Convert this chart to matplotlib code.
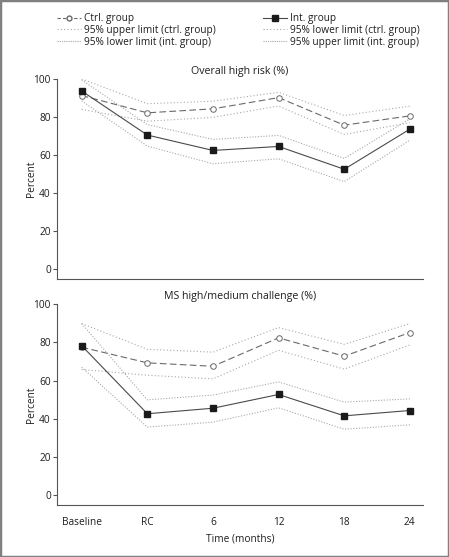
import matplotlib
matplotlib.use("Agg")
import matplotlib.pyplot as plt
from matplotlib.lines import Line2D
from matplotlib.patches import Rectangle

plt.rcParams['font.family'] = ['Open Sans', 'DejaVu Sans']

time_labels = ["Baseline", "RC", "6", "12", "18", "24"]

# Panel 1: Overall high risk (%)
risk_ctrl = [91.3, 82.2, 84.3, 90.2, 75.7, 80.6]
risk_ctrl_upper = [100.0, 87.0, 88.3, 93.0, 80.8, 85.7]
risk_ctrl_lower = [84.0, 77.8, 79.8, 85.8, 70.8, 77.0]
risk_int = [93.7, 70.5, 62.4, 64.5, 52.5, 73.6]
risk_int_upper = [99.5, 76.0, 68.2, 70.3, 58.2, 79.0]
risk_int_lower = [88.5, 64.7, 55.4, 58.0, 46.0, 67.8]

# Panel 2: MS high/medium challenge (%)
ms_ctrl = [77.5, 69.3, 67.5, 82.4, 72.8, 85.2]
ms_ctrl_upper = [89.9, 76.4, 74.9, 87.8, 79.0, 89.9]
ms_ctrl_lower = [65.8, 62.8, 60.9, 75.9, 66.0, 78.7]
ms_int = [78.3, 42.6, 45.5, 52.7, 41.5, 44.3]
ms_int_upper = [89.9, 49.9, 52.4, 59.3, 48.7, 50.4]
ms_int_lower = [67.0, 35.6, 38.2, 45.7, 34.5, 36.8]

W, H = 449, 557
fig = plt.figure(figsize=(W / 100, H / 100), dpi=100)

fs = 7.3
ctrl_color = "#6a6a6a"
int_color = "#4a4a4a"
ci_color = "#a8a8a8"
text_color = "#1e1e1e"

def make_axes(top_px, bottom_px):
    left = 57 / W
    right = 423 / W
    return fig.add_axes([left, 1 - bottom_px / H, right - left, (bottom_px - top_px) / H])

def draw(ax, title, ctrl, cu, cl, it, iu, il, show_x):
    x = list(range(len(time_labels)))
    ax.plot(x, cu, linestyle=(0, (1, 2)), color=ci_color, lw=0.8)
    ax.plot(x, cl, linestyle=(0, (1, 2)), color=ci_color, lw=0.8)
    ax.plot(x, iu, linestyle=(0, (1, 1.5)), color=ci_color, lw=0.8)
    ax.plot(x, il, linestyle=(0, (1, 1.5)), color=ci_color, lw=0.8)
    ax.plot(x, ctrl, linestyle=(0, (6, 3)), color=ctrl_color, lw=0.8,
            marker="o", ms=4, mfc="white", mec=ctrl_color, mew=0.7)
    ax.plot(x, it, linestyle="-", color=int_color, lw=0.8,
            marker="s", ms=4.2, mfc="#1a1a1a", mec="#1a1a1a")
    ax.set_xlim(-0.376, 5.2)
    ax.set_ylim(-5.1, 100)
    ax.set_yticks([0, 20, 40, 60, 80, 100])
    ax.set_xticks(x)
    ax.spines["top"].set_visible(False)
    ax.spines["right"].set_visible(False)
    for s in ["left", "bottom"]:
        ax.spines[s].set_color("#555555")
        ax.spines[s].set_linewidth(0.8)
    ax.tick_params(axis="y", length=3, width=0.8, color="#555555",
                   labelsize=fs, labelcolor=text_color, pad=1.5)
    if show_x:
        ax.set_xticklabels(time_labels)
        ax.tick_params(axis="x", length=0, labelsize=fs, labelcolor=text_color, pad=9)
        ax.set_xlabel("Time (months)", fontsize=fs, color=text_color, labelpad=4)
    else:
        ax.tick_params(axis="x", length=0, labelbottom=False)
    ax.set_ylabel("Percent", fontsize=fs, color=text_color, labelpad=-2.5)
    ax.set_title(title, fontsize=fs + 0.4, color=text_color, pad=3.5)

ax1 = make_axes(79, 278.7)
draw(ax1, "Overall high risk (%)", risk_ctrl, risk_ctrl_upper, risk_ctrl_lower,
     risk_int, risk_int_upper, risk_int_lower, False)
ax2 = make_axes(304.3, 504.7)
draw(ax2, "MS high/medium challenge (%)", ms_ctrl, ms_ctrl_upper, ms_ctrl_lower,
     ms_int, ms_int_upper, ms_int_lower, True)

h_ctrl = Line2D([], [], linestyle=(0, (3, 2)), color=ctrl_color, lw=0.8,
                marker="o", ms=3.5, mfc="white", mec=ctrl_color)
h_int = Line2D([], [], linestyle="-", color=int_color, lw=0.8,
               marker="s", ms=3.8, mfc="#1a1a1a", mec="#1a1a1a")
h_cu = Line2D([], [], linestyle=(0, (1, 2)), color=ci_color, lw=0.8)
h_cl = Line2D([], [], linestyle=(0, (1, 2)), color=ci_color, lw=0.8)
h_iu = Line2D([], [], linestyle=(0, (1, 1)), color=ci_color, lw=0.8)
h_il = Line2D([], [], linestyle=(0, (1, 1)), color=ci_color, lw=0.8)

common = dict(frameon=False, fontsize=fs, borderpad=0, borderaxespad=0,
              handlelength=2.4, handletextpad=0.3, labelspacing=0.05,
              loc="upper left", labelcolor=text_color)
leg1 = fig.legend([h_ctrl, h_cu, h_il],
                  ["Ctrl. group", "95% upper limit (ctrl. group)", "95% lower limit (int. group)"],
                  bbox_to_anchor=(57 / W, 1 - 13.5 / H), **common)
leg2 = fig.legend([h_int, h_cl, h_iu],
                  ["Int. group", "95% lower limit (ctrl. group)", "95% upper limit (int. group)"],
                  bbox_to_anchor=(262.7 / W, 1 - 13.5 / H), **common)

fig.patches.append(Rectangle((0, 0), 1, 1, transform=fig.transFigure, fill=False,
                             edgecolor="#808080", lw=2.5))

fig.savefig("out.png", dpi=100)
